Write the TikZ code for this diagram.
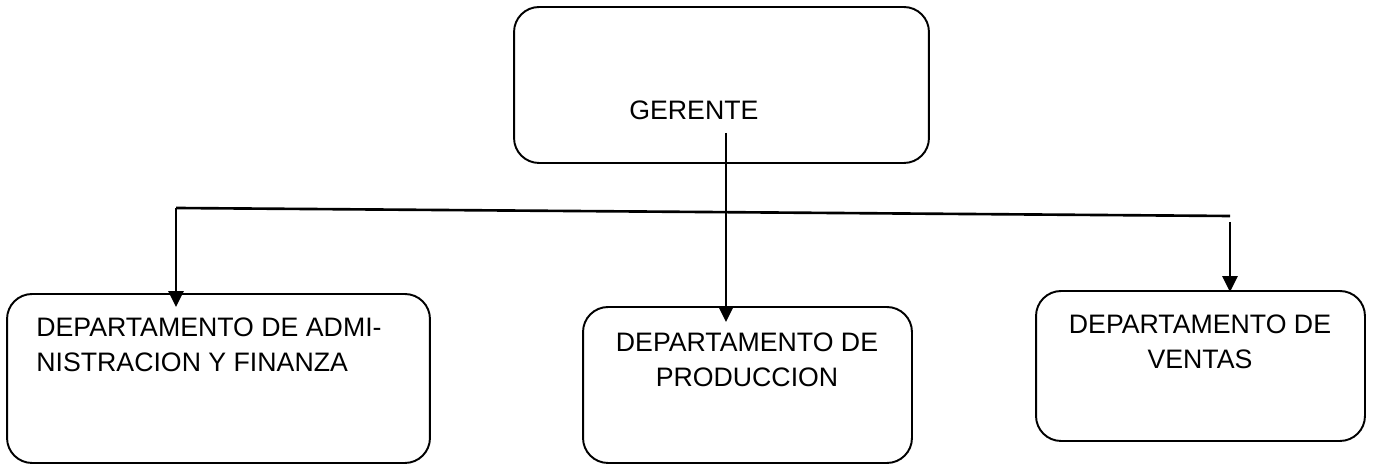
\documentclass[tikz,border=0pt]{standalone}
\usepackage{fontspec}
\setmainfont{Liberation Sans}
\usepackage{tikz}
\usetikzlibrary{arrows.meta, positioning, calc}

\tikzset{
  deptbox/.style={draw=black, line width=1.1pt, rounded corners=0.5cm, inner sep=0pt},
  labeltext/.style={inner sep=0pt, font=\fontsize{15.2}{19.9}\selectfont},
  conn/.style={draw=black, line width=1.5pt},
  downarrow/.style={conn, -{Triangle[length=0.32cm, width=0.3cm]}}
}

\begin{document}
\begin{tikzpicture}[x=0.02cm, y=-0.02cm]
  \useasboundingbox (0,0) rectangle (1374,465);
  % boxes
  \node[deptbox, minimum width=8.3cm, minimum height=3.12cm] (gerente) at (721.5,85) {};
  \node[deptbox, minimum width=8.46cm, minimum height=3.38cm] (admin) at (218.5,378.5) {};
  \node[deptbox, minimum width=6.58cm, minimum height=3.12cm] (prod) at (747.5,385) {};
  \node[deptbox, minimum width=6.58cm, minimum height=3.0cm] (ventas) at (1200.5,366) {};
  % labels
  \node[labeltext, anchor=base west] (gerentetxt) at (629,120) {GERENTE};
  \node[labeltext, anchor=north west, align=left] (admintxt) at (36,318)
    {DEPARTAMENTO DE ADMI-\\NISTRACION Y FINANZA};
  \node[labeltext, anchor=north, align=center] (prodtxt) at (747,333)
    {DEPARTAMENTO DE\\PRODUCCION};
  \node[labeltext, anchor=north, align=center] (ventastxt) at (1200,315)
    {DEPARTAMENTO DE\\VENTAS};
  % connectors
  \coordinate (leftend) at (176,208);
  \coordinate (rightend) at (1230,216);
  \coordinate (gerfoot) at (726,133);
  \coordinate (rightdrop) at (1230,222);
  \draw[conn] (leftend) -- (rightend);
  \draw[downarrow] (leftend) -- ($(leftend |- admin.north)+(0,14)$);
  \draw[downarrow] (gerfoot) -- ($(gerfoot |- prod.north)+(0,16)$);
  \draw[downarrow] (rightdrop) -- ($(rightdrop |- ventas.north)+(0,2)$);
\end{tikzpicture}
\end{document}
